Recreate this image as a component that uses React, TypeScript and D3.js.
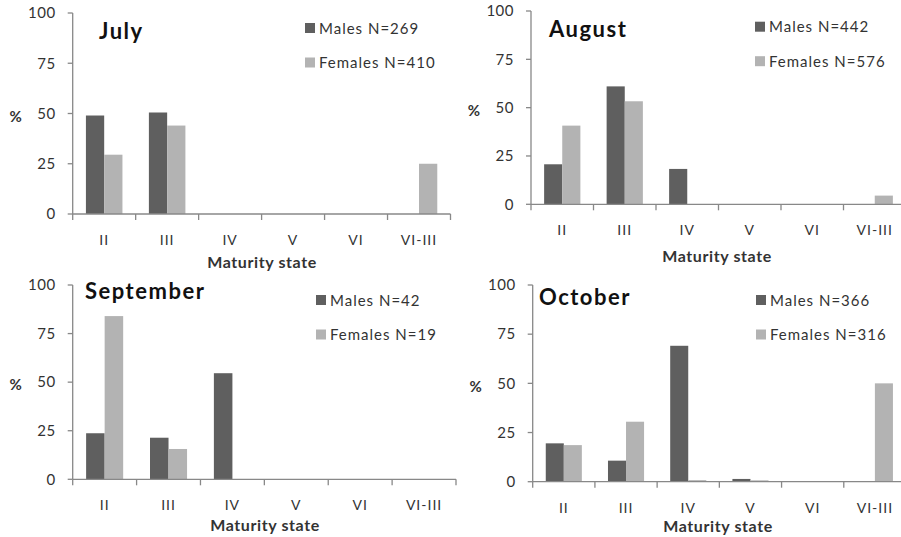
import React from "react";
import * as d3 from "d3";

// Maturity states on the x axis
const categories = ["II", "III", "IV", "V", "VI", "VI-III"];
const months = ["July", "August", "September", "October"];
const malesN = [269, 442, 42, 366];
const femalesN = [410, 576, 19, 316];
const yTicks = [0, 25, 50, 75, 100];

// Percent of individuals in each maturity state
const julyMales = [49, 50.5, 0, 0, 0, 0];
const julyFemales = [29.5, 44, 0, 0, 0, 25];
const augustMales = [20.7, 61, 18.3, 0, 0, 0];
const augustFemales = [40.7, 53.3, 0, 0, 0, 4.5];
const septemberMales = [23.7, 21.4, 54.6, 0, 0, 0];
const septemberFemales = [84, 15.6, 0, 0, 0, 0];
const octoberMales = [19.5, 10.7, 69.1, 1.4, 0, 0];
const octoberFemales = [18.6, 30.5, 0.8, 0.7, 0, 50];

const malesByMonth = [julyMales, augustMales, septemberMales, octoberMales];
const femalesByMonth = [julyFemales, augustFemales, septemberFemales, octoberFemales];

const MALE = "#5f5f5f";
const FEMALE = "#b3b3b3";
const AXIS = "#888888";
const LABEL = "#333333";
const FONT = "Lato, 'Open Sans', sans-serif";

// Plot frame of each panel: x0..x1 along the axis, yTop = 100 %, yBot = 0 %,
// title (tx, ty), legend (lx, ly) and axis title (mx, my) anchors
const frames = [
  { x0: 72.7, x1: 450.5, yTop: 13, yBot: 214, tx: 99, ty: 39, lx: 305, ly: 23, mx: 262, my: 262 },
  { x0: 531, x1: 906, yTop: 11, yBot: 204.3, tx: 549, ty: 36.7, lx: 755, ly: 21.7, mx: 717, my: 256.5 },
  { x0: 72.7, x1: 456, yTop: 285, yBot: 479.3, tx: 85, ty: 299, lx: 316, ly: 295, mx: 265, my: 525 },
  { x0: 532.7, x1: 906, yTop: 285, yBot: 481.7, tx: 539, ty: 305, lx: 756, ly: 295, mx: 718, my: 526.5 },
];

function Panel({ i }: { i: number }) {
  const f = frames[i];
  const x = d3
    .scaleBand<string>()
    .domain(categories)
    .range([f.x0, f.x1])
    .paddingInner(0.42)
    .paddingOuter(0.21);
  const sub = d3
    .scaleBand<string>()
    .domain(["m", "f"])
    .range([0, x.bandwidth()]);
  const y = d3.scaleLinear().domain([0, 100]).range([f.yBot, f.yTop]);
  const step = x.step();
  const boundaries = d3.range(categories.length + 1).map((k) => f.x0 + k * step);
  const series = [
    { key: "m", values: malesByMonth[i], color: MALE },
    { key: "f", values: femalesByMonth[i], color: FEMALE },
  ];

  return (
    <g>
      {/* bars */}
      {series.map((s) =>
        s.values.map((v, k) =>
          v > 0 ? (
            <rect
              key={s.key + k}
              x={(x(categories[k]) ?? 0) + (sub(s.key) ?? 0)}
              y={y(v)}
              width={sub.bandwidth()}
              height={y(0) - y(v)}
              fill={s.color}
            />
          ) : null
        )
      )}

      {/* y axis */}
      <line x1={f.x0} x2={f.x0} y1={y(100)} y2={y(0)} stroke={AXIS} strokeWidth={1.3} />
      {yTicks.map((t) => (
        <g key={t}>
          <line x1={f.x0 - 5} x2={f.x0} y1={y(t)} y2={y(t)} stroke={AXIS} strokeWidth={1.3} />
          <text
            x={f.x0 - 17}
            y={y(t)}
            dy="0.35em"
            textAnchor="end"
            fontSize={15}
            letterSpacing={0.5}
            fill={LABEL}
            fontFamily={FONT}
          >
            {t}
          </text>
        </g>
      ))}
      <text
        x={f.x0 - 57}
        y={y(50) + 3}
        dy="0.35em"
        textAnchor="middle"
        fontSize={15}
        fontWeight="bold"
        fill={LABEL}
        fontFamily={FONT}
      >
        %
      </text>

      {/* x axis */}
      <line x1={f.x0} x2={f.x1} y1={y(0)} y2={y(0)} stroke={AXIS} strokeWidth={1.3} />
      {boundaries.map((bx, k) => (
        <line key={k} x1={bx} x2={bx} y1={y(0)} y2={y(0) + 6} stroke={AXIS} strokeWidth={1.3} />
      ))}
      {categories.map((c) => (
        <text
          key={c}
          x={(x(c) ?? 0) + x.bandwidth() / 2}
          y={f.yBot + 26}
          dy="0.35em"
          textAnchor="middle"
          fontSize={14}
          letterSpacing={1}
          fill={LABEL}
          fontFamily={FONT}
        >
          {c}
        </text>
      ))}
      <text
        x={f.mx}
        y={f.my}
        dy="0.35em"
        textAnchor="middle"
        fontSize={16}
        fontWeight="bold"
        letterSpacing={0.6}
        fill={LABEL}
        fontFamily={FONT}
      >
        Maturity state
      </text>

      {/* month title */}
      <text
        x={f.tx}
        y={f.ty}
        fontSize={22}
        fontWeight="bold"
        letterSpacing={1.5}
        fill="#111"
        fontFamily={FONT}
      >
        {months[i]}
      </text>

      {/* legend */}
      {[
        { label: `Males N=${malesN[i]}`, color: MALE, dy: 0 },
        { label: `Females N=${femalesN[i]}`, color: FEMALE, dy: 34.5 },
      ].map((l) => (
        <g key={l.label}>
          <rect x={f.lx} y={f.ly + l.dy} width={10} height={10} fill={l.color} />
          <text
            x={f.lx + 14}
            y={f.ly + l.dy + 5.5}
            dy="0.35em"
            fontSize={15}
            letterSpacing={1}
            fill={LABEL}
            fontFamily={FONT}
          >
            {l.label}
          </text>
        </g>
      ))}
    </g>
  );
}

export default function App() {
  return (
    <svg
      width={901}
      height={537}
      style={{ position: "absolute", left: 0, top: 0, background: "#fff" }}
    >
      <rect width={901} height={537} fill="#fff" />
      {months.map((m, i) => (
        <Panel key={m} i={i} />
      ))}
    </svg>
  );
}
